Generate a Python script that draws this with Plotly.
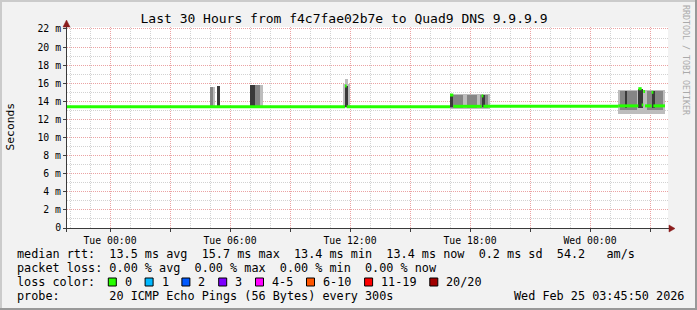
import pandas as pd
import plotly.graph_objects as go

# ---------------- data ----------------
x_start = "2026-02-23 21:51:00"
x_end = "2026-02-25 03:54:00"
y_max = 22.22

x_tick_vals = ["2026-02-24 00:00", "2026-02-24 03:00", "2026-02-24 06:00", "2026-02-24 09:00",
               "2026-02-24 12:00", "2026-02-24 15:00", "2026-02-24 18:00", "2026-02-24 21:00",
               "2026-02-25 00:00", "2026-02-25 03:00"]
x_tick_text = ["Tue 00:00", "", "Tue 06:00", "", "Tue 12:00", "", "Tue 18:00", "", "Wed 00:00", ""]
y_tick_vals = [0, 2, 4, 6, 8, 10, 12, 14, 16, 18, 20, 22]
y_tick_text = ["0", "2 m", "4 m", "6 m", "8 m", "10 m", "12 m", "14 m", "16 m", "18 m", "20 m", "22 m"]

# median rtt runs (ms)
med_start = ["2026-02-23 21:50", "2026-02-24 11:45", "2026-02-24 11:50", "2026-02-24 17:00",
             "2026-02-24 17:10", "2026-02-24 18:35", "2026-02-24 18:40", "2026-02-25 01:25",
             "2026-02-25 02:25", "2026-02-25 02:35", "2026-02-25 02:40", "2026-02-25 02:45",
             "2026-02-25 03:05", "2026-02-25 03:10"]
med_end = ["2026-02-24 11:45", "2026-02-24 11:50", "2026-02-24 17:00", "2026-02-24 17:10",
           "2026-02-24 18:35", "2026-02-24 18:40", "2026-02-25 01:25", "2026-02-25 02:25",
           "2026-02-25 02:35", "2026-02-25 02:40", "2026-02-25 02:45", "2026-02-25 03:05",
           "2026-02-25 03:10", "2026-02-25 03:45"]
med_val = [13.4, 15.7, 13.4, 14.7, 13.45, 14.6, 13.45, 13.5, 15.4, 13.6, 15.1, 13.5, 15.0, 13.5]

# smoke: full spread of the pings (ms)
outer_start = ["2026-02-24 05:00", "2026-02-24 05:20", "2026-02-24 07:00", "2026-02-24 11:40",
               "2026-02-24 11:45", "2026-02-24 17:00", "2026-02-25 01:25"]
outer_end = ["2026-02-24 05:15", "2026-02-24 05:30", "2026-02-24 07:40", "2026-02-24 12:00",
             "2026-02-24 11:55", "2026-02-24 19:00", "2026-02-25 03:45"]
outer_lo = [13.3, 13.3, 13.3, 13.3, 13.3, 13.2, 12.6]
outer_hi = [15.6, 15.75, 15.85, 15.9, 16.5, 14.8, 15.3]

# smoke: middle pings
core_start = ["2026-02-24 05:00", "2026-02-24 07:00", "2026-02-24 17:00", "2026-02-24 17:50",
              "2026-02-24 18:30", "2026-02-25 01:30", "2026-02-25 02:50"]
core_end = ["2026-02-24 05:10", "2026-02-24 07:30", "2026-02-24 17:40", "2026-02-24 18:20",
            "2026-02-24 18:55", "2026-02-25 02:20", "2026-02-25 03:40"]
core_lo = [13.4, 13.4, 13.3, 13.3, 13.3, 13.1, 13.1]
core_hi = [15.55, 15.8, 14.75, 14.7, 14.7, 15.2, 15.2]

# smoke: densest pings
dense_start = ["2026-02-24 05:20", "2026-02-24 07:00", "2026-02-24 11:45", "2026-02-24 17:00",
               "2026-02-24 18:35", "2026-02-25 01:45", "2026-02-25 02:25", "2026-02-25 03:05"]
dense_end = ["2026-02-24 05:30", "2026-02-24 07:15", "2026-02-24 11:55", "2026-02-24 17:10",
             "2026-02-24 18:45", "2026-02-25 01:50", "2026-02-25 02:40", "2026-02-25 03:15"]
dense_lo = [13.4, 13.4, 13.4, 13.4, 13.4, 13.3, 13.3, 13.3]
dense_hi = [15.7, 15.8, 15.7, 14.8, 14.7, 15.1, 15.4, 15.2]

loss_labels = ["0", "1", "2", "3", "4-5", "6-10", "11-19", "20/20"]
loss_colors = ["#26ff00", "#00b8ff", "#0059ff", "#7e00ff", "#ff00ff", "#ff5500", "#ff0000", "#a10000"]

stat_line1 = "median rtt:  13.5 ms avg  15.7 ms max  13.4 ms min  13.4 ms now  0.2 ms sd  54.2   am/s"
stat_line2 = "packet loss: 0.00 % avg  0.00 % max  0.00 % min  0.00 % now"
probe_line = "probe:       20 ICMP Echo Pings (56 Bytes) every 300s"
stamp_text = "Wed Feb 25 03:45:50 2026"
title_text = "Last 30 Hours from f4c7fae02b7e to Quad9 DNS 9.9.9.9"

# ---------------- layout geometry ----------------
W, H = 697, 310
L, R, T, B = 67, 668, 27, 228
MONO = "DejaVu Sans Mono"
CW = 7.1


def px(x):
    return (x - L) / (R - L)


def py(y):
    return (B - y) / (B - T)


def nb(s):
    return s.replace(" ", "\u00a0")


def bars(starts, ends, lo, hi, color, name):
    s = pd.to_datetime(starts)
    e = pd.to_datetime(ends)
    mid = s + (e - s) / 2
    width = [(b - a).total_seconds() * 1000 for a, b in zip(s, e)]
    return go.Bar(x=mid, y=[h - l for l, h in zip(lo, hi)], base=lo, width=width,
                  marker=dict(color=color, line=dict(width=0)), name=name,
                  showlegend=False, hoverinfo="skip")


fig = go.Figure()
fig.add_trace(bars(outer_start, outer_end, outer_lo, outer_hi, "#bdbdbd", "smoke"))
fig.add_trace(bars(core_start, core_end, core_lo, core_hi, "#858585", "smoke core"))
fig.add_trace(bars(dense_start, dense_end, dense_lo, dense_hi, "#3a3a3a", "smoke dense"))

mx, my = [], []
for s, e, v in zip(med_start, med_end, med_val):
    mx += [pd.Timestamp(s), pd.Timestamp(e), None]
    my += [v, v, None]
fig.add_trace(go.Scatter(x=mx, y=my, mode="lines", line=dict(color="#26ff00", width=3),
                         showlegend=False, hoverinfo="skip", connectgaps=False))

grid_minor = "#d2d2d2"
grid_major = "#eba3a3"

fig.update_layout(
    width=W, height=H, autosize=False,
    margin=dict(l=L, r=W - R, t=T, b=H - B, pad=0),
    paper_bgcolor="#f2f2f2", plot_bgcolor="#ffffff",
    barmode="overlay", bargap=0,
    font=dict(family=MONO, color="#000000"),
    title=dict(text=title_text, font=dict(family=MONO, size=13, color="#000000"),
               x=344 / W, xanchor="center", xref="container",
               y=1 - 18 / H, yanchor="middle", yref="container"),
    xaxis=dict(type="date", range=[x_start, x_end], tickmode="array",
               tickvals=x_tick_vals, ticktext=x_tick_text,
               showgrid=True, gridcolor=grid_major, griddash="1px,1px", gridwidth=1,
               ticks="outside", ticklen=3, tickcolor="#404040", tickwidth=1,
               tickfont=dict(family=MONO, size=9.8, color="#000000"),
               showline=False, zeroline=False,
               minor=dict(tickmode="linear", tick0="2026-02-24 00:00", dtick=3600000,
                          showgrid=True, gridcolor=grid_minor, griddash="1px,1px",
                          gridwidth=1, ticks="")),
    yaxis=dict(range=[0, y_max], tickmode="array", tickvals=y_tick_vals, ticktext=y_tick_text,
               showgrid=True, gridcolor=grid_major, griddash="1px,1px", gridwidth=1,
               ticks="outside", ticklen=3, tickcolor="#404040", tickwidth=1,
               tickfont=dict(family=MONO, size=9.8, color="#000000"),
               showline=False, zeroline=False,
               minor=dict(tickmode="linear", tick0=0, dtick=1, showgrid=True,
                          gridcolor=grid_minor, griddash="1px,1px", gridwidth=1, ticks="")),
)

shapes = []
# image border (shade)
shapes.append(dict(type="rect", xref="paper", yref="paper", x0=px(0), x1=px(W), y0=py(0), y1=py(2),
                   fillcolor="#cbcbcb", line=dict(width=0), layer="above"))
shapes.append(dict(type="rect", xref="paper", yref="paper", x0=px(0), x1=px(2), y0=py(0), y1=py(H),
                   fillcolor="#cbcbcb", line=dict(width=0), layer="above"))
shapes.append(dict(type="rect", xref="paper", yref="paper", x0=px(0), x1=px(W), y0=py(H - 2), y1=py(H),
                   fillcolor="#999999", line=dict(width=0), layer="above"))
shapes.append(dict(type="rect", xref="paper", yref="paper", x0=px(W - 2), x1=px(W), y0=py(0), y1=py(H),
                   fillcolor="#999999", line=dict(width=0), layer="above"))
# axis lines
axis_col = "#3a3a3a"
shapes.append(dict(type="line", xref="paper", yref="paper", x0=px(63), x1=px(670), y0=py(228.5), y1=py(228.5),
                   line=dict(color=axis_col, width=1), layer="above"))
shapes.append(dict(type="line", xref="paper", yref="paper", x0=px(66.5), x1=px(66.5), y0=py(232), y1=py(24),
                   line=dict(color=axis_col, width=1), layer="above"))
# arrows
arrow_col = "#8b1c1c"
shapes.append(dict(type="path", xref="paper", yref="paper",
                   path=f"M {px(669)} {py(225)} L {px(675)} {py(228.5)} L {px(669)} {py(232)} Z",
                   fillcolor=arrow_col, line=dict(color=arrow_col, width=0.5), layer="above"))
shapes.append(dict(type="path", xref="paper", yref="paper",
                   path=f"M {px(63)} {py(27)} L {px(66.5)} {py(20)} L {px(70)} {py(27)} Z",
                   fillcolor=arrow_col, line=dict(color=arrow_col, width=0.5), layer="above"))

annotations = []


def text(x, y, s, size=11.8, anchor="left", color="#000000", angle=0):
    annotations.append(dict(xref="paper", yref="paper", x=px(x), y=py(y), text=nb(s),
                            showarrow=False, xanchor=anchor, yanchor="middle", borderpad=0,
                            textangle=angle, font=dict(family=MONO, size=size, color=color)))


text(16, 254, stat_line1)
text(16, 268, stat_line2)
text(16, 282, "loss color:")
text(16, 296, probe_line)
text(513, 296, stamp_text)

bx = 108.3
for lab, col in zip(loss_labels, loss_colors):
    shapes.append(dict(type="rect", xref="paper", yref="paper", x0=px(bx), x1=px(bx + 8),
                       y0=py(278), y1=py(286), fillcolor=col,
                       line=dict(color="#000000", width=1), layer="above"))
    text(bx + 15.5, 282, lab)
    bx = bx + 15.5 + len(lab) * CW + 2 * CW

# vertical texts
annotations.append(dict(xref="paper", yref="paper", x=px(10.5), y=py(127), text="Seconds",
                        showarrow=False, xanchor="center", yanchor="middle", textangle=-90,
                        font=dict(family=MONO, size=11.3, color="#000000")))
annotations.append(dict(xref="paper", yref="paper", x=px(686), y=py(60), text=nb("RRDTOOL / TOBI OETIKER"),
                        showarrow=False, xanchor="center", yanchor="middle", textangle=90,
                        font=dict(family=MONO, size=8.3, color="#aaaaaa")))

fig.update_layout(shapes=shapes, annotations=annotations)
fig.write_html("out.html")
